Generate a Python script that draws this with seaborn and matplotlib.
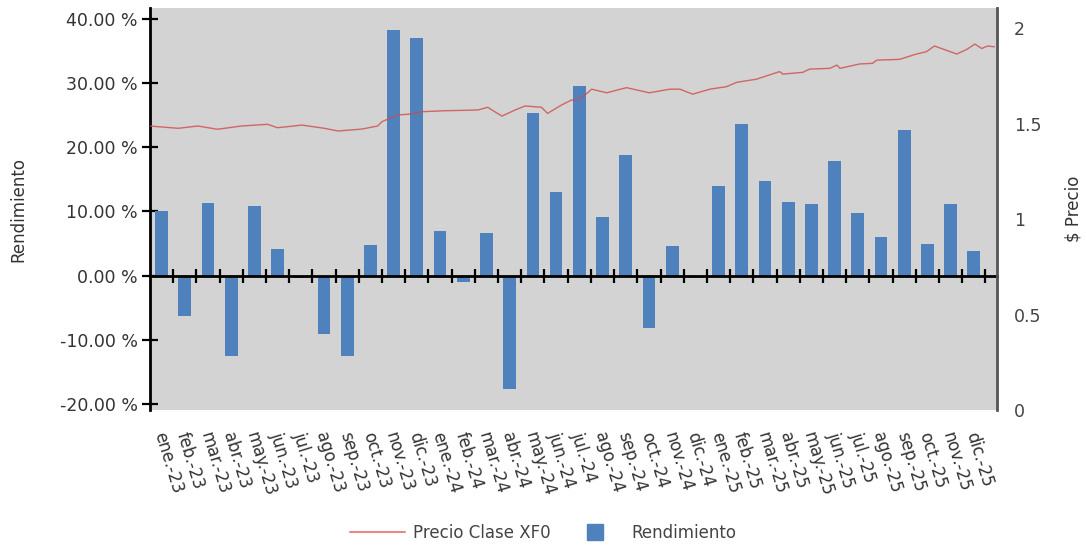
import numpy as np
import pandas as pd
import matplotlib
matplotlib.use("Agg")
import matplotlib.pyplot as plt
import matplotlib.transforms as mtransforms
from matplotlib.ticker import FixedLocator, FuncFormatter
from matplotlib.lines import Line2D
import seaborn as sns

# ---------------- data ----------------
months = ["ene.-23", "feb.-23", "mar.-23", "abr.-23", "may.-23", "jun.-23",
          "jul.-23", "ago.-23", "sep.-23", "oct.-23", "nov.-23", "dic.-23",
          "ene.-24", "feb.-24", "mar.-24", "abr.-24", "may.-24", "jun.-24",
          "jul.-24", "ago.-24", "sep.-24", "oct.-24", "nov.-24", "dic.-24",
          "ene.-25", "feb.-25", "mar.-25", "abr.-25", "may.-25", "jun.-25",
          "jul.-25", "ago.-25", "sep.-25", "oct.-25", "nov.-25", "dic.-25"]

rendimiento = [10.1, -6.3, 11.3, -12.5, 10.8, 4.2, -0.4, -9.1, -12.5, 4.7,
               38.2, 37.0, 6.9, -1.0, 6.6, -17.7, 25.3, 13.0, 29.5, 9.2,
               18.8, -8.2, 4.6, -0.4, 13.9, 23.7, 14.7, 11.5, 11.1, 17.8,
               9.8, 6.1, 22.7, 5.0, 11.2, 3.8]

price_dates = ["2023-01-01", "2023-02-07", "2023-03-03", "2023-03-29", "2023-04-29",
               "2023-06-03", "2023-06-16", "2023-07-18", "2023-08-17", "2023-09-04",
               "2023-10-05", "2023-10-26", "2023-11-01", "2023-11-21", "2023-12-10",
               "2023-12-23", "2024-01-23", "2024-03-05", "2024-03-18", "2024-04-06",
               "2024-04-23", "2024-05-06", "2024-05-28", "2024-06-05", "2024-06-23",
               "2024-07-06", "2024-07-13", "2024-07-24", "2024-08-02", "2024-08-22",
               "2024-09-17", "2024-10-17", "2024-11-13", "2024-11-26", "2024-12-13",
               "2025-01-05", "2025-01-27", "2025-02-09", "2025-03-05", "2025-04-05",
               "2025-04-09", "2025-05-05", "2025-05-14", "2025-06-10", "2025-06-19",
               "2025-06-23", "2025-07-19", "2025-08-05", "2025-08-11", "2025-09-10",
               "2025-10-02", "2025-10-15", "2025-10-26", "2025-11-24", "2025-12-07",
               "2025-12-18", "2025-12-27", "2026-01-04", "2026-01-13"]
price_vals = [1.487, 1.475, 1.487, 1.470, 1.487,
              1.496, 1.478, 1.492, 1.475, 1.461,
              1.471, 1.487, 1.510, 1.545, 1.550,
              1.562, 1.567, 1.571, 1.585, 1.539,
              1.571, 1.592, 1.585, 1.553, 1.597,
              1.623, 1.623, 1.649, 1.680, 1.661,
              1.688, 1.661, 1.680, 1.680, 1.654,
              1.680, 1.693, 1.716, 1.732, 1.772,
              1.759, 1.768, 1.785, 1.789, 1.806,
              1.789, 1.812, 1.815, 1.832, 1.836,
              1.864, 1.876, 1.906, 1.864, 1.888,
              1.916, 1.893, 1.906, 1.902]

left_ticks = [-20, -10, 0, 10, 20, 30, 40]
right_ticks = [0, 0.5, 1, 1.5, 2]
right_tick_labels = ["0", "0.5", "1", "1.5", "2"]

# map dates to the categorical month axis (month i spans i-0.5 .. i+0.5)
d = pd.to_datetime(pd.Series(price_dates))
price_pos = ((d.dt.year - 2023) * 12 + (d.dt.month - 1)
             + (d.dt.day - 1) / d.dt.days_in_month - 0.5).to_numpy()

df_bar = pd.DataFrame({"mes": months, "rend": rendimiento})
df_line = pd.DataFrame({"pos": price_pos, "precio": price_vals})

# ---------------- style ----------------
sns.set_style("white")
plt.rcParams["font.family"] = ["DejaVu Sans"]
TXT = "#333333"
BAR = "#4F81BD"
LINE = "#D04A4A"
FS = 12

fig = plt.figure(figsize=(10.86, 5.54), dpi=100)
ax = fig.add_axes([150 / 1086, 1 - 410 / 554, 847 / 1086, 402 / 554])
ax.set_facecolor("#D3D3D3")

sns.barplot(data=df_bar, x="mes", y="rend", color=BAR, saturation=1,
            width=0.55, ax=ax, zorder=2, edgecolor=BAR, linewidth=0)
ax.set_xlim(-0.5, 36.0)
ax.set_ylim(-20.93, 41.7)
ax.set_yticks(left_ticks)
ax.yaxis.set_major_formatter(FuncFormatter(lambda v, p: f"{v:.2f} %"))
ax.set_xlabel("")
ax.set_ylabel("Rendimiento", fontsize=FS, color=TXT, va="center")
ax.yaxis.set_label_coords((18 - 150) / 847, 0.5)

# spines: top spine repurposed as the zero line
for s in ["right", "bottom"]:
    ax.spines[s].set_visible(False)
ax.spines["top"].set_position(("data", 0))
ax.spines["top"].set_color("black")
ax.spines["top"].set_linewidth(2)
ax.spines["top"].set_zorder(3)
ax.spines["left"].set_color("black")
ax.spines["left"].set_linewidth(2)

ax.xaxis.set_minor_locator(FixedLocator(np.arange(0.5, 36, 1)))
ax.tick_params(axis="x", which="major", bottom=True, top=False, length=0,
               labelbottom=True, labeltop=False, labelsize=FS,
               labelcolor=TXT, pad=16)
ax.tick_params(axis="x", which="minor", bottom=False, top=True,
               direction="inout", length=10, width=1.6, color="black")
ax.tick_params(axis="y", which="major", left=True, direction="inout",
               length=12, width=1.6, color="black", labelsize=12.5,
               labelcolor=TXT, pad=3)
shift = mtransforms.ScaledTranslation(-3 / 100, 0, fig.dpi_scale_trans)
for lab in ax.get_xticklabels():
    lab.set_rotation(-73)
    lab.set_ha("left")
    lab.set_va("center")
    lab.set_rotation_mode("anchor")
    lab.set_transform(lab.get_transform() + shift)

# ---------------- price line on twin axis ----------------
ax2 = ax.twinx()
sns.lineplot(data=df_line, x="pos", y="precio", color=LINE, linewidth=1.0,
             alpha=0.8, ax=ax2)
ax2.set_xlim(-0.5, 36.0)
ax2.set_ylim(0, 2.105)
ax2.set_yticks(right_ticks)
ax2.set_yticklabels(right_tick_labels)
ax2.set_ylabel(r"\$ Precio", fontsize=FS, color=TXT, va="center")
ax2.yaxis.set_label_coords((1074 - 150) / 847, 0.5)
for s in ["left", "top", "bottom"]:
    ax2.spines[s].set_visible(False)
ax2.spines["right"].set_color("#555555")
ax2.spines["right"].set_linewidth(2)
ax2.tick_params(axis="y", length=0, labelsize=12.5, labelcolor="#444444", pad=12)
ax2.tick_params(axis="x", which="both", length=0, labelbottom=False, labeltop=False)
ax2.set_xlabel("")

# ---------------- legend ----------------
handles = [Line2D([0], [0], color="#E08A8A", linewidth=1.5),
           Line2D([0], [0], color=BAR, marker="s", linestyle="none",
                  markersize=12)]
leg = fig.legend(handles, ["Precio Clase XF0", "Rendimiento"],
                 loc="lower center", bbox_to_anchor=(0.5, -0.005), ncol=2,
                 frameon=False, fontsize=FS, handlelength=3.3,
                 columnspacing=1.0, handletextpad=0.5)
for t in leg.get_texts():
    t.set_color("#444444")

fig.savefig("out.png", dpi=100)
